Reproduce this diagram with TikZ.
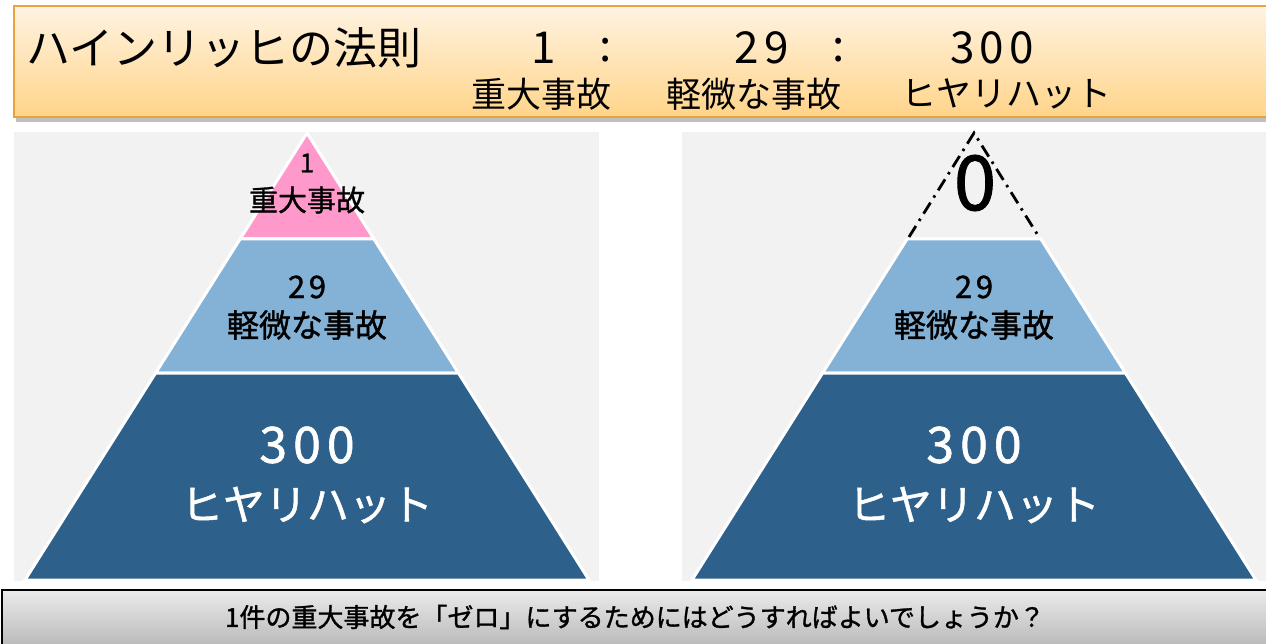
\documentclass[tikz,border=0pt]{standalone}
\usepackage{fontspec}
\setmainfont{Noto Sans CJK JP}[CharacterWidth=Proportional]
\newfontfamily\fullwidth{Noto Sans CJK JP}
\newcommand\dspaced{\addfontfeatures{LetterSpace=12}}
\newcommand\heavy{\addfontfeatures{FakeBold=1.2}}
\newcommand\fs[1]{\fontsize{#1}{#1}\selectfont}
\definecolor{hdrtop}{HTML}{FFF3E2}
\definecolor{hdrbot}{HTML}{FFD489}
\definecolor{hdrline}{HTML}{E8A33A}
\definecolor{panelbg}{HTML}{F2F2F2}
\definecolor{lpink}{HTML}{FF99CC}
\definecolor{lblue}{HTML}{84B2D7}
\definecolor{dblue}{HTML}{2D618B}
\begin{document}
\begin{tikzpicture}[x=1pt,y=-1pt,
  layer/.style={draw=white,line width=3pt,line join=miter},
  txt/.style={inner sep=0pt,text=black},
  wtxt/.style={inner sep=0pt,text=white}]
\useasboundingbox (0,0) rectangle (1266,644);
\fill[white] (0,0) rectangle (1266,644);
% header
\fill[black!25] (16,109) rectangle (1270,122);
\shade[top color=hdrtop,bottom color=hdrbot] (14,6) rectangle (1270,117);
\draw[hdrline,line width=1.5pt] (1270,6) -- (14,6) -- (14,117) -- (1270,117);
\node[txt,anchor=west,font=\fs{44}] (title) at (26,48) {ハインリッヒの法則};
\node[txt,font=\fs{44}\dspaced] (h1) at (544,48) {1};
\node[txt,font=\fs{44}] (hc1) at (606,50) {:};
\node[txt,font=\fs{44}\dspaced] (h29) at (762,48) {29};
\node[txt,font=\fs{44}] (hc2) at (839,50) {:};
\node[txt,font=\fs{44}\dspaced] (h300) at (992,48) {300};
\node[txt,font=\fs{35}] (s1) at (541,94) {重大事故};
\node[txt,font=\fs{35}] (s2) at (754,94) {軽微な事故};
\node[txt,font=\fs{35}] (s3) at (1006,94) {ヒヤリハット};
% panels
\fill[panelbg] (14,132) rectangle (599,581);
\fill[panelbg] (682,132) rectangle (1266,581);
% left pyramid
\filldraw[layer,fill=lpink] (307,133) -- (373.9,239) -- (240.1,239) -- cycle;
\filldraw[layer,fill=lblue] (240.1,239) -- (373.9,239) -- (458.4,373) -- (155.6,373) -- cycle;
\filldraw[layer,fill=dblue] (155.6,373) -- (458.4,373) -- (589,580) -- (25,580) -- cycle;
\node[txt,font=\fs{26}\heavy] (l1) at (307,163) {1};
\node[txt,font=\fs{29}\heavy] (l1t) at (307,200) {重大事故};
\node[txt,font=\fs{31}\heavy\dspaced] (l29) at (307,287) {29};
\node[txt,font=\fs{32}\heavy] (l29t) at (307,325) {軽微な事故};
\node[wtxt,font=\fs{50}\heavy\dspaced] (l300) at (307,445) {300};
\node[wtxt,font=\fs{42}\heavy] (l300t) at (307,505) {ヒヤリハット};
% right pyramid
\filldraw[layer,fill=lblue] (907.1,239) -- (1040.9,239) -- (1125.4,373) -- (822.6,373) -- cycle;
\filldraw[layer,fill=dblue] (822.6,373) -- (1125.4,373) -- (1256,580) -- (692,580) -- cycle;
\coordinate (apex) at (974,133);
\coordinate (bl) at (909,237);
\coordinate (br) at (1039,237);
\draw[line width=2.8pt,dash pattern=on 13pt off 6pt on 2.5pt off 6pt] (bl) -- (apex) -- (br);
\node[txt,font=\fs{76}\heavy] (zero) at (975,183) {0};
\node[txt,font=\fs{31}\heavy\dspaced] (r29) at (974,287) {29};
\node[txt,font=\fs{32}\heavy] (r29t) at (974,325) {軽微な事故};
\node[wtxt,font=\fs{50}\heavy\dspaced] (r300) at (974,445) {300};
\node[wtxt,font=\fs{42}\heavy] (r300t) at (974,505) {ヒヤリハット};
% bottom box
\shade[top color=black!8,bottom color=black!28] (2,590) rectangle (1270,648);
\draw[line width=1.5pt] (2,648) -- (2,590) -- (1270,590);
\node[txt,font=\fullwidth\fs{26}\heavy] (q) at (635,617) {1件の重大事故を「ゼロ」にするためにはどうすればよいでしょうか？};
\end{tikzpicture}
\end{document}
